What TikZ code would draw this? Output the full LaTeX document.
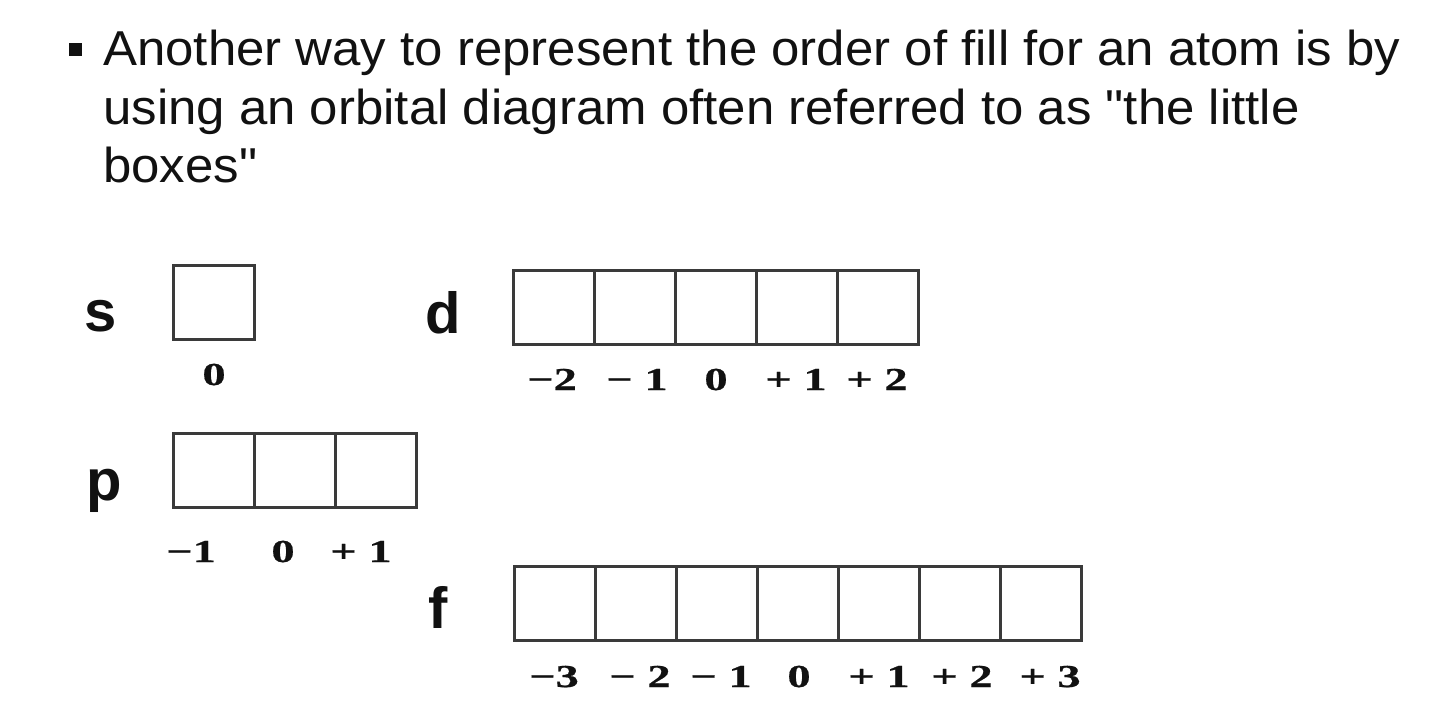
\documentclass[tikz,border=0pt]{standalone}
\usepackage{fontspec}
\setmainfont{Liberation Sans}
\newfontfamily\titlefont[FakeStretch=1.04]{Liberation Sans}
\newfontfamily\lblfont[FakeStretch=1.45,FakeBold=0.6]{Liberation Serif}
\definecolor{boxgray}{HTML}{3A3A3A}
\definecolor{textblack}{HTML}{111111}
\tikzset{
  cell/.style={draw=boxgray, line width=3pt, minimum width=81pt, minimum height=74pt, inner sep=0pt, outer sep=0pt},
  orb/.style={font=\fontsize{58}{60}\selectfont\bfseries, anchor=base, inner sep=0pt, text=textblack},
  qn/.style={font=\lblfont\fontsize{32}{34}\selectfont\bfseries, anchor=base, inner sep=0pt, text=textblack},
  titleline/.style={font=\titlefont\fontsize{49}{51}\selectfont, anchor=base west, inner sep=0pt, text=textblack}
}
\begin{document}
\begin{tikzpicture}[x=1pt,y=-1pt]
\useasboundingbox (0,0) rectangle (1440,725);
% title
\node[fill=textblack, minimum size=13pt, inner sep=0pt] (bullet) at (75.5,49.5) {};
\node[titleline] (t1) at (103,66) {Another way to represent the order of fill for an atom is by};
\node[titleline] (t2) at (103,124) {using an orbital diagram often referred to as {\char34}the little};
\node[titleline] (t3) at (103,182) {boxes{\char34}};
% s
\node[orb] (sl) at (101,331) {s};
\node[cell] (s1) at (214,302) {};
\node[qn] (sq1) at (214,385) {0};
% p
\node[orb] (pl) at (104,500) {p};
\foreach \i/\x in {1/213.5,2/294.5,3/375.5}
  \node[cell] (p\i) at (\x,470) {};
\node[qn] (pq1) at (191,562) {−1};
\node[qn] (pq2) at (283,562) {0};
\node[qn] (pq3) at (361,562) {+ 1};
% d
\node[orb] (dl) at (443,333) {d};
\foreach \i/\x in {1/553.5,2/634.5,3/715.5,4/796.5,5/877.5}
  \node[cell] (d\i) at (\x,307) {};
\node[qn] (dq1) at (552,390) {−2};
\node[qn] (dq2) at (637,390) {− 1};
\node[qn] (dq3) at (716,390) {0};
\node[qn] (dq4) at (796,390) {+ 1};
\node[qn] (dq5) at (877,390) {+ 2};
% f
\node[orb] (fl) at (438,628) {f};
\foreach \i/\x in {1/554.5,2/635.5,3/716.5,4/797.5,5/878.5,6/959.5,7/1040.5}
  \node[cell] (f\i) at (\x,603) {};
\node[qn] (fq1) at (554,687) {−3};
\node[qn] (fq2) at (640,687) {− 2};
\node[qn] (fq3) at (721,687) {− 1};
\node[qn] (fq4) at (799,687) {0};
\node[qn] (fq5) at (879,687) {+ 1};
\node[qn] (fq6) at (962,687) {+ 2};
\node[qn] (fq7) at (1050,687) {+ 3};
\end{tikzpicture}
\end{document}
